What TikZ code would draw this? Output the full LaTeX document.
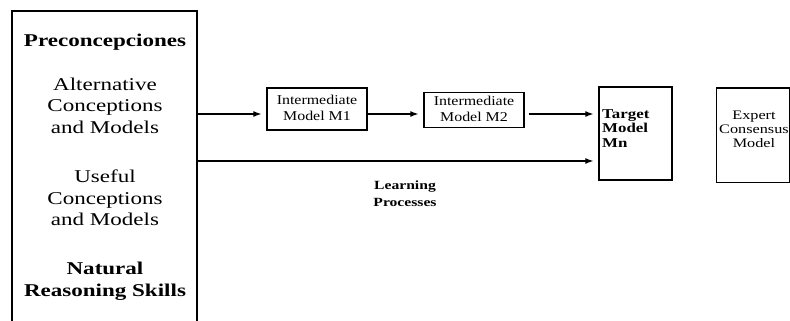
\documentclass[tikz,border=0pt]{standalone}
\usepackage{graphicx}
\usepackage{fontspec}
\setmainfont{Liberation Serif}
\usetikzlibrary{arrows.meta}

% stacked, horizontally widened text: #1 = widening, #2 = column spec, #3 = lines
\newcommand{\widestack}[3]{\scalebox{#1}[1]{\begin{tabular}{@{}#2@{}}#3\end{tabular}}}

\tikzset{
  frame/.style={draw, line width=1.3pt, inner sep=0pt},
  txt/.style={inner sep=0pt, text=black},
  flow/.style={line width=1.2pt, -{Latex[length=8pt,width=6pt]}, shorten >=5pt},
}

\begin{document}
\begin{tikzpicture}[x=1pt,y=-1pt]
\useasboundingbox (0,0) rectangle (790,321);
\clip (0,0) rectangle (790,321);

% source panel (runs off the bottom)
\node[frame, minimum width=185pt, minimum height=340pt] (pre) at (104.5,181) {};
\node[txt] (pc) at (105,42)
  {\fontsize{18}{21.5}\selectfont\bfseries\widestack{1.28}{c}{Preconcepciones}};
\node[txt] (alt) at (105,107.5)
  {\fontsize{18}{21.5}\selectfont\widestack{1.28}{c}{Alternative\\Conceptions\\and Models}};
\node[txt] (use) at (105,200)
  {\fontsize{18}{21.5}\selectfont\widestack{1.28}{c}{Useful\\Conceptions\\and Models}};
\node[txt] (nat) at (105,281)
  {\fontsize{18}{21.5}\selectfont\bfseries\widestack{1.28}{c}{Natural\\Reasoning Skills}};

% model boxes
\node[frame, minimum width=100pt, minimum height=42pt] (m1) at (317,109) {};
\node[txt] (m1t) at (m1) {\fontsize{13.5}{16}\selectfont\widestack{1.18}{c}{Intermediate\\Model M1}};

\node[frame, minimum width=100pt, minimum height=35pt] (m2) at (474,110) {};
\node[txt] (m2t) at (m2) {\fontsize{13.5}{16}\selectfont\widestack{1.18}{c}{Intermediate\\Model M2}};

\node[frame, minimum width=73pt, minimum height=93pt] (tgt) at (635.5,133.5) {};
\node[txt, anchor=west] (tgtt) at (602,130)
  {\fontsize{13.5}{14.5}\selectfont\bfseries\widestack{1.25}{l}{Target\\Model\\Mn}};

% consensus box, running into the right border
\node[frame, minimum width=73pt, minimum height=94pt, anchor=north west] (expert) at (715.5,87.5) {};
\node[txt] (expertt) at (754,131)
  {\fontsize{13}{14}\selectfont\widestack{1.25}{c}{Expert\\Consensus\\Model}};

\node[txt] (lp) at (405,195)
  {\fontsize{12.5}{17}\selectfont\bfseries\widestack{1.25}{c}{Learning\\Processes}};

% connector rows
\coordinate (row1) at (0,114);
\coordinate (row2) at (0,161);

\draw[flow] (pre.east |- row1) -- (m1.west |- row1);
\draw[flow] (m1.east |- row1) -- (m2.west |- row1);
\draw[flow] ([xshift=4pt]m2.east |- row1) -- (tgt.west |- row1);
\draw[flow] (pre.east |- row2) -- (tgt.west |- row2);
\end{tikzpicture}
\end{document}
